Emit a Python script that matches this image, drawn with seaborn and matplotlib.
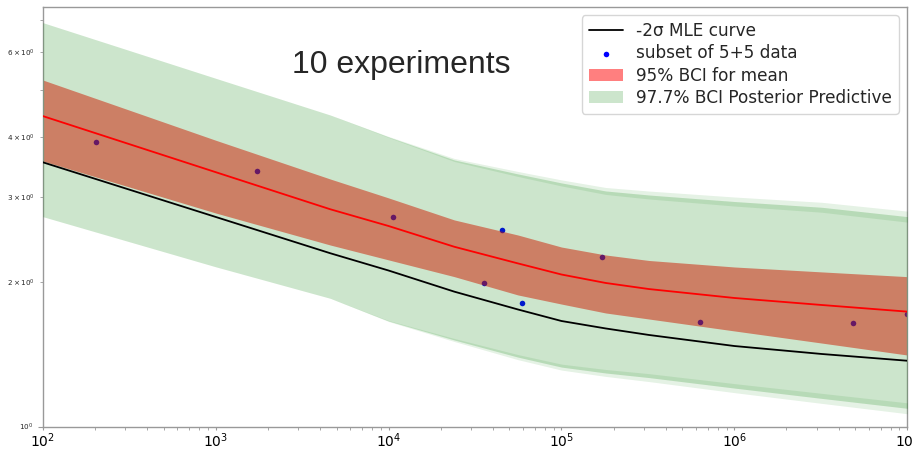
import matplotlib
matplotlib.use("Agg")
import matplotlib.pyplot as plt
import numpy as np
import pandas as pd
import seaborn as sns

# ---- values ----
x_grid = [1e2, 1e3, 4.6e3, 1e4, 2.4e4, 5.6e4, 1e5, 1.8e5, 3.2e5, 1e6, 3.2e6, 1e7]
mle_minus2sigma = [3.543, 2.727, 2.292, 2.110, 1.907, 1.751, 1.657, 1.599, 1.550, 1.470, 1.415, 1.370]
mean_curve = [4.420, 3.379, 2.829, 2.611, 2.364, 2.183, 2.070, 1.988, 1.931, 1.850, 1.789, 1.733]
mean_ci_upper = [5.253, 3.937, 3.270, 2.987, 2.688, 2.501, 2.361, 2.273, 2.214, 2.146, 2.096, 2.049]
mean_ci_lower = [3.565, 2.779, 2.384, 2.220, 2.049, 1.877, 1.797, 1.722, 1.673, 1.580, 1.491, 1.408]
pp_upper = [6.913, 5.296, 4.442, 3.999, 3.582, 3.350, 3.209, 3.088, 3.029, 2.936, 2.856, 2.731]
pp_lower = [2.731, 2.148, 1.847, 1.657, 1.513, 1.394, 1.329, 1.292, 1.264, 1.202, 1.144, 1.091]
# spread of the noisy (sampled) edges of the posterior predictive band
pp_upper_edge_hi = [6.913, 5.296, 4.442, 4.009, 3.608, 3.390, 3.256, 3.140, 3.087, 3.000, 2.925, 2.804]
pp_upper_edge_lo = [6.913, 5.296, 4.442, 3.989, 3.556, 3.310, 3.163, 3.037, 2.972, 2.873, 2.789, 2.660]
pp_lower_edge_hi = [2.731, 2.148, 1.847, 1.661, 1.524, 1.411, 1.348, 1.314, 1.288, 1.228, 1.172, 1.120]
pp_lower_edge_lo = [2.731, 2.148, 1.847, 1.653, 1.502, 1.377, 1.310, 1.271, 1.240, 1.176, 1.117, 1.063]

data_x = [203, 1726, 10650, 45200, 35600, 59000, 172600, 630000, 4.85e6, 1e7]
data_y = [3.90, 3.39, 2.73, 2.56, 1.99, 1.81, 2.25, 1.65, 1.64, 1.71]

title_text = "10 experiments"
lbl_mle = "-2σ MLE curve"
lbl_data = "subset of 5+5 data"
lbl_mean = "95% BCI for mean"
lbl_pp = "97.7% BCI Posterior Predictive"

curves = pd.DataFrame({"x": x_grid, "mle": mle_minus2sigma, "mean": mean_curve})
points = pd.DataFrame({"x": data_x, "y": data_y})

sns.set_style("ticks", {"axes.edgecolor": "0.6"})
plt.rcParams["font.family"] = ["DejaVu Sans"]
plt.rcParams["xtick.color"] = "0.6"
plt.rcParams["ytick.color"] = "0.6"
plt.rcParams["xtick.labelcolor"] = "black"
plt.rcParams["ytick.labelcolor"] = "0.15"

fig = plt.figure(figsize=(9.13, 4.49), dpi=100)
ax = fig.add_axes([0.0468, 0.0501, 0.9470, 0.9343])
ax.set_xscale("log")
ax.set_yscale("log")

sns.scatterplot(data=points, x="x", y="y", color="b", s=16, linewidth=0,
                label=lbl_data, ax=ax, zorder=1)
ax.fill_between(x_grid, mean_ci_lower, mean_ci_upper, color="red", alpha=0.5,
                linewidth=0, label=lbl_mean, zorder=2)
ax.fill_between(x_grid, pp_lower, pp_upper, color="g", alpha=0.2,
                linewidth=0, label=lbl_pp, zorder=3)
ax.fill_between(x_grid, pp_upper_edge_lo, pp_upper_edge_hi, color="g", alpha=0.1,
                linewidth=0, zorder=3)
ax.fill_between(x_grid, pp_lower_edge_lo, pp_lower_edge_hi, color="g", alpha=0.1,
                linewidth=0, zorder=3)
sns.lineplot(data=curves, x="x", y="mle", color="k", linewidth=1.3,
             label=lbl_mle, ax=ax, zorder=5)
sns.lineplot(data=curves, x="x", y="mean", color="red", linewidth=1.3,
             legend=False, ax=ax, zorder=5)

ax.set_xlim(1e2, 1e7)
ax.set_ylim(1.0, 7.449)
ax.set_xlabel("")
ax.set_ylabel("")

ax.tick_params(axis="x", which="major", labelsize=10, length=2.5, width=0.8, pad=0.8)
ax.tick_params(axis="x", which="minor", length=1.8, width=0.6)
ax.tick_params(axis="y", which="both", labelsize=5.2)
ax.tick_params(axis="y", which="major", length=3.5, width=0.8)
ax.tick_params(axis="y", which="minor", length=2.5, width=0.6)

ax.text(0.4144, 0.8434, title_text, transform=ax.transAxes, ha="center",
        va="baseline", fontsize=23, family=["Liberation Sans", "DejaVu Sans"])

handles, labels = ax.get_legend_handles_labels()
hmap = dict(zip(labels, handles))
order = [lbl_mle, lbl_data, lbl_mean, lbl_pp]
ax.legend([hmap[l] for l in order], order, loc="upper right", fontsize=12.2,
          labelspacing=0.25)

for s in ax.spines.values():
    s.set_linewidth(1.0)

fig.savefig("out.png", dpi=100)
